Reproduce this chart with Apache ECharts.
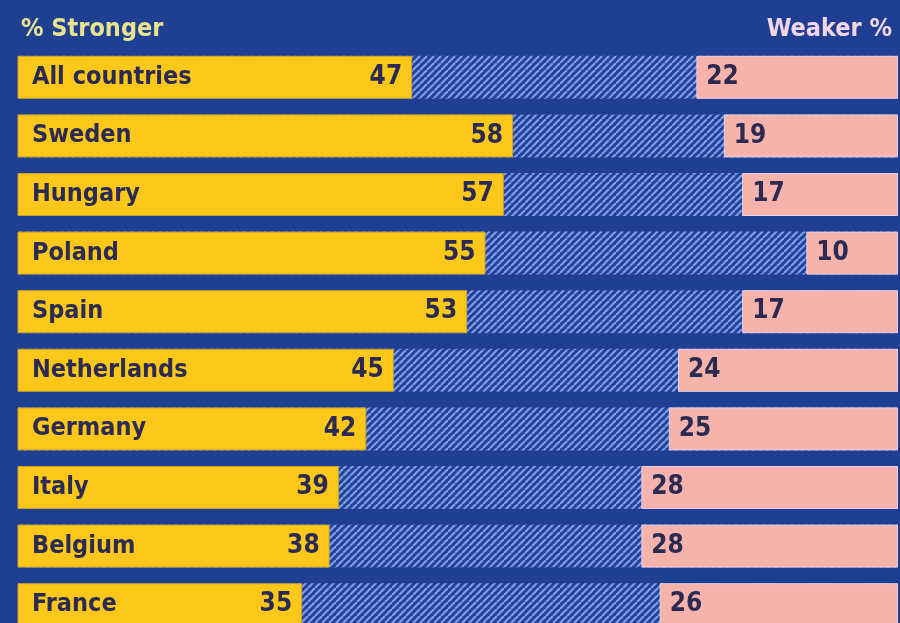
<!DOCTYPE html>
<html>
<head>
<meta charset="utf-8">
<script src="https://cdn.jsdelivr.net/npm/echarts@6/dist/echarts.min.js"></script>
<style>
  html, body { margin: 0; padding: 0; background: #1f3f93; }
  #main { width: 900px; height: 623px; }
</style>
</head>
<body>
<div id="main"></div>
<script>
var countries = ['All countries', 'Sweden', 'Hungary', 'Poland', 'Spain', 'Netherlands', 'Germany', 'Italy', 'Belgium', 'France'];
var stronger = [47, 58, 57, 55, 53, 45, 42, 39, 38, 35];
var weaker = [22, 19, 17, 10, 17, 24, 25, 28, 28, 26];
var leftTitle = '% Stronger';
var rightTitle = 'Weaker %';

var font = '"DejaVu Sans Condensed", "Liberation Sans Narrow", sans-serif';
var ink = '#2a2a52';

// diagonal hatch tile for the middle part
function hatch() {
    var c = document.createElement('canvas');
    c.width = 7;
    c.height = 7;
    var ctx = c.getContext('2d');
    ctx.fillStyle = '#22419a';
    ctx.fillRect(0, 0, 7, 7);
    ctx.strokeStyle = '#7d9ee2';
    ctx.lineWidth = 2.2;
    [-7, 0, 7].forEach(function (dx) {
        ctx.beginPath();
        ctx.moveTo(dx, 7);
        ctx.lineTo(dx + 7, 0);
        ctx.stroke();
    });
    return c;
}

var myChart = echarts.init(document.getElementById('main'));
var option = {
    backgroundColor: '#1f3f93',
    animation: false,
    title: [
        {
            text: leftTitle, left: 16, top: 12,
            textStyle: { color: '#e9e38e', fontFamily: font, fontWeight: 'bold', fontSize: 25 }
        },
        {
            text: rightTitle, right: 3, top: 12,
            textStyle: { color: '#f2d6e6', fontFamily: font, fontWeight: 'bold', fontSize: 25 }
        }
    ],
    grid: { left: 18, right: 2, top: 48, height: 586, outerBoundsMode: 'none', containLabel: false },
    xAxis: [
        { type: 'value', min: 4, max: 100, show: false },
        { type: 'value', min: 0, max: 96, inverse: true, show: false }
    ],
    yAxis: {
        type: 'category',
        inverse: true,
        data: countries,
        z: 10,
        axisLine: { show: false },
        axisTick: { show: false },
        axisLabel: {
            inside: true,
            margin: 14,
            color: ink,
            fontFamily: font,
            fontWeight: 'bold',
            fontSize: 25
        }
    },
    series: [
        {
            name: 'Stronger',
            type: 'bar',
            xAxisIndex: 0,
            data: stronger,
            barWidth: 43,
            barGap: '-100%',
            showBackground: true,
            backgroundStyle: { color: { image: hatch(), repeat: 'repeat' } },
            itemStyle: { color: '#fbc81a', borderColor: '#c9a030', borderWidth: 1 },
            label: {
                show: true, position: 'insideRight', distance: 10,
                color: ink, fontFamily: font, fontWeight: 'bold', fontSize: 26
            }
        },
        {
            name: 'Weaker',
            type: 'bar',
            xAxisIndex: 1,
            data: weaker,
            barWidth: 43,
            barGap: '-100%',
            itemStyle: { color: '#f6b3ab', borderColor: '#e9cde6', borderWidth: 1 },
            label: {
                show: true, position: 'insideLeft', distance: 10,
                color: ink, fontFamily: font, fontWeight: 'bold', fontSize: 26
            }
        }
    ]
};
myChart.setOption(option);
</script>
</body>
</html>
